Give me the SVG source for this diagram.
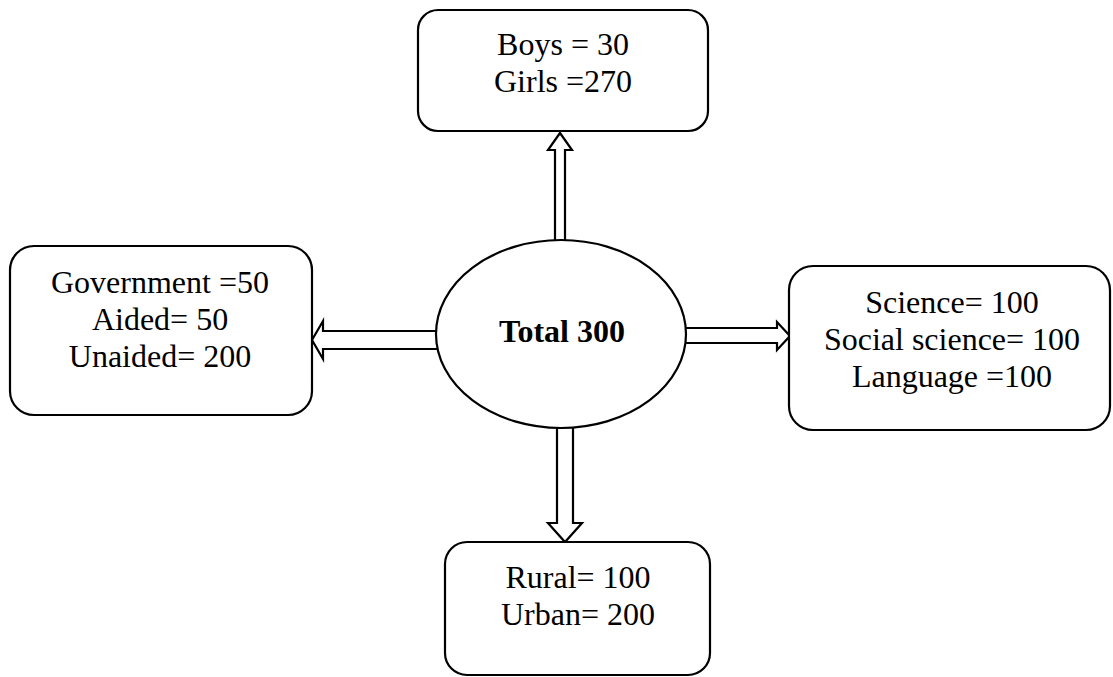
<svg xmlns="http://www.w3.org/2000/svg" width="1113" height="677" viewBox="0 0 1113 677">
  <style>
    .box { fill: #ffffff; stroke: #000000; stroke-width: 2.2; }
    .arrow { fill: #ffffff; stroke: #000000; stroke-width: 2.2; stroke-linejoin: miter; }
    .t { font-family: "Liberation Serif", "Times New Roman", serif; font-size: 32px; fill: #000000; text-anchor: middle; }
    .b { font-weight: bold; }
  </style>
  <rect width="1113" height="677" fill="#ffffff"/>
  <g id="connectors">
    <path class="arrow" d="M555,242 L555,150 L548,150 L560,133 L572,150 L565,150 L565,242 Z"/>
    <path class="arrow" d="M438,331 L323,331 L323,321 L312,340 L323,359 L323,349 L438,349 Z"/>
    <path class="arrow" d="M685,328 L777,328 L777,322 L790,336 L777,350 L777,343 L685,343 Z"/>
    <path class="arrow" d="M557,426 L557,523 L548,523 L565,542 L582,523 L573,523 L573,426 Z"/>
  </g>
  <g id="center">
    <ellipse class="box" cx="561" cy="334" rx="125" ry="94"/>
    <text class="t b" x="562" y="342">Total 300</text>
  </g>
  <g id="gender">
    <rect class="box" x="418" y="10" width="290" height="121" rx="20" ry="20"/>
    <text class="t" x="563" y="55">Boys = 30</text>
    <text class="t" x="563" y="92">Girls =270</text>
  </g>
  <g id="management">
    <rect class="box" x="10" y="246" width="302" height="169" rx="24" ry="24"/>
    <text class="t" x="160" y="293">Government =50</text>
    <text class="t" x="160" y="330">Aided= 50</text>
    <text class="t" x="160" y="367">Unaided= 200</text>
  </g>
  <g id="subject">
    <rect class="box" x="789" y="266" width="321" height="164" rx="24" ry="24"/>
    <text class="t" x="952" y="313">Science= 100</text>
    <text class="t" x="952" y="350">Social science= 100</text>
    <text class="t" x="952" y="387">Language =100</text>
  </g>
  <g id="locality">
    <rect class="box" x="445" y="542" width="265" height="133" rx="22" ry="22"/>
    <text class="t" x="578" y="588">Rural= 100</text>
    <text class="t" x="578" y="625">Urban= 200</text>
  </g>
</svg>
